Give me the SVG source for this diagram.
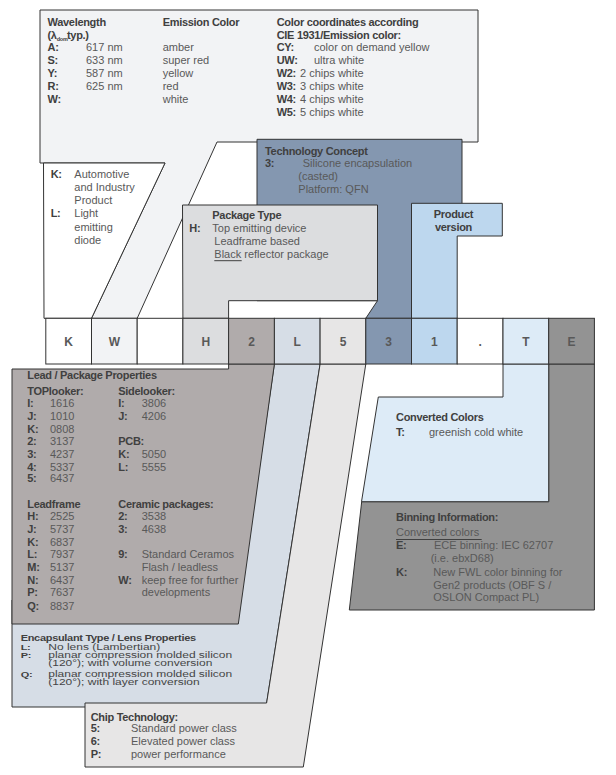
<svg xmlns="http://www.w3.org/2000/svg" width="616" height="775" viewBox="0 0 616 775">
<style>
.bx{stroke:#333;stroke-width:1;stroke-linejoin:miter}
.b{font-family:"Liberation Sans",Arial,sans-serif;font-size:11px;font-weight:bold;letter-spacing:-0.3px;fill:#404040}
.r{font-family:"Liberation Sans",Arial,sans-serif;font-size:11px;fill:#595959}
.r12{font-family:"Liberation Sans",Arial,sans-serif;font-size:12px;fill:#454545}
.c{font-family:"Liberation Sans",Arial,sans-serif;font-size:12px;font-weight:bold;fill:#595959;text-anchor:middle}
.ul{stroke:#404040;stroke-width:1}
</style>
<rect width="616" height="775" fill="#fff"/>
<g id="connectors">
</g>
<g id="node-wavelength">
<polygon class="bx" fill="#f2f3f5" points="40,10 478,10 478,142 217,142 137.2,318.3 91.5,318.3 165,163 40,163"/>
<text class="b" x="47.5" y="25.5">Wavelength</text>
<text class="b" x="47.5" y="38.5">(λ<tspan font-size="5.5" dy="2" letter-spacing="-0.2">dom</tspan><tspan x="67" dy="-2">typ.)</tspan></text>
<text class="b" x="47.5" y="51.3">A:</text><text class="r" x="86" y="51.3">617 nm</text>
<text class="b" x="47.5" y="64.2">S:</text><text class="r" x="86" y="64.2">633 nm</text>
<text class="b" x="47.5" y="77">Y:</text><text class="r" x="86" y="77">587 nm</text>
<text class="b" x="47.5" y="90">R:</text><text class="r" x="86" y="90">625 nm</text>
<text class="b" x="47.5" y="103">W:</text>
<text class="b" x="162.7" y="25.5">Emission Color</text>
<text class="r" x="162.7" y="51.3">amber</text>
<text class="r" x="162.7" y="64.2">super red</text>
<text class="r" x="162.7" y="77">yellow</text>
<text class="r" x="162.7" y="90">red</text>
<text class="r" x="162.7" y="103">white</text>
<text class="b" x="276.7" y="25.5">Color coordinates according</text>
<text class="b" x="276.7" y="38.5">CIE 1931/Emission color:</text>
<text class="b" x="276.7" y="51.3">CY:</text><text class="r" x="314" y="51.3">color on demand yellow</text>
<text class="b" x="276.7" y="64.2">UW:</text><text class="r" x="314" y="64.2">ultra white</text>
<text class="b" x="276.7" y="77">W2:</text><text class="r" x="300" y="77">2 chips white</text>
<text class="b" x="276.7" y="90">W3:</text><text class="r" x="300" y="90">3 chips white</text>
<text class="b" x="276.7" y="103">W4:</text><text class="r" x="300" y="103">4 chips white</text>
<text class="b" x="276.7" y="115.8">W5:</text><text class="r" x="300" y="115.8">5 chips white</text>
</g>
<g id="node-k">
<polygon class="bx" fill="#fff" points="43.5,163 165,163 91.5,318.3 44,318.3"/>
<text class="b" x="50.7" y="178">K:</text><text class="r" x="74.3" y="178">Automotive</text>
<text class="r" x="74.3" y="191.2">and Industry</text>
<text class="r" x="74.3" y="204.3">Product</text>
<text class="b" x="50.7" y="217.3">L:</text><text class="r" x="74.3" y="217.3">Light</text>
<text class="r" x="74.3" y="230.5">emitting</text>
<text class="r" x="74.3" y="243.5">diode</text>
</g>
<g id="node-technology">
<polygon class="bx" fill="#8497b0" points="257,139.3 462,139.3 462,210 411.5,210 411.5,318.3 365.8,318.3 377.5,300.7 257,300.7"/>
<text class="b" x="265" y="154.5">Technology Concept</text>
<text class="b" x="265" y="167.3">3:</text><text class="r" x="302.7" y="167.3">Silicone encapsulation</text>
<text class="r" x="298.3" y="180.3">(casted)</text>
<text class="r" x="298.3" y="193.2">Platform: QFN</text>
</g>
<g id="node-package">
<polygon class="bx" fill="#dcdddf" points="182.5,205 377.5,205 377.5,300.7 228.6,300.7 228.6,318.3 182.9,318.3"/>
<text class="b" x="212.3" y="219">Package Type</text>
<text class="b" x="189.3" y="232">H:</text><text class="r" x="212.3" y="232">Top emitting device</text>
<text class="r" x="214.3" y="245">Leadframe based</text>
<text class="r" x="214.3" y="257.5">Black reflector package</text>
<line class="ul" x1="214.3" y1="260.7" x2="241.7" y2="260.7"/>
</g>
<g id="node-product">
<polygon class="bx" fill="#bdd7ee" points="411.5,203.3 502.3,203.3 502.3,236 457.2,236 457.2,318.3 411.5,318.3"/>
<text class="b" x="453.5" y="218.3" text-anchor="middle">Product</text>
<text class="b" x="453.5" y="231.3" text-anchor="middle">version</text>
</g>
<g id="node-binning">
<polygon class="bx" fill="#939393" points="548.7,364 594.4,364 594.4,610 349.3,610 361.7,501.7 548.7,501.7"/>
<text class="b" x="396" y="520.5" fill="#4a4a4a">Binning Information:</text>
<text class="r" x="396" y="536.3" fill="#4e4e4e">Converted colors</text>
<line class="ul" x1="396" y1="539.5" x2="481.7" y2="539.5"/>
<text class="b" x="396" y="549" fill="#4a4a4a">E:</text><text class="r" x="434" y="549" fill="#4e4e4e">ECE binning: IEC 62707</text>
<text class="r" x="430.7" y="562.3" fill="#4e4e4e">(i.e. ebxD68)</text>
<text class="b" x="396" y="575.7" fill="#4a4a4a">K:</text><text class="r" x="433.3" y="575.7" fill="#4e4e4e">New FWL color binning for</text>
<text class="r" x="433.3" y="588.5" fill="#4e4e4e">Gen2 products (OBF S /</text>
<text class="r" x="433.3" y="601.3" fill="#4e4e4e">OSLON Compact PL)</text>
</g>
<g id="node-converted">
<polygon class="bx" fill="#ddebf7" points="503,364 548.7,364 548.7,501.7 361.5,501.7 378.3,397 503,397"/>
<text class="b" x="396" y="420.5">Converted Colors</text>
<text class="b" x="396" y="436.3">T:</text><text class="r" x="429" y="436.3">greenish cold white</text>
</g>
<g id="node-encapsulant">
<polygon class="bx" fill="#d6dde6" points="274.4,364 320.1,364 266,707 12,707 12,600 240,600"/>
<g transform="translate(0 640.5) scale(1 0.85)"><text class="b" x="20.7" y="0">Encapsulant Type / Lens Properties</text></g>
<g transform="translate(0 649.5) scale(1 0.68)"><text class="b" x="20.7" y="0">L:</text><text class="r12" x="48.3" y="0">No lens (Lambertian)</text></g>
<g transform="translate(0 657.8) scale(1 0.68)"><text class="b" x="20.7" y="0">P:</text><text class="r12" x="48.3" y="0">planar compression molded silicon</text></g>
<g transform="translate(0 666.1) scale(1 0.68)"><text class="r12" x="48.3" y="0">(120°); with volume conversion</text></g>
<g transform="translate(0 676.7) scale(1 0.68)"><text class="b" x="20.7" y="0">Q:</text><text class="r12" x="48.3" y="0">planar compression molded silicon</text></g>
<g transform="translate(0 685) scale(1 0.68)"><text class="r12" x="48.3" y="0">(120°); with layer conversion</text></g>
</g>
<g id="node-chip">
<polygon class="bx" fill="#e7e6e6" points="320.1,364 365.8,364 303.3,767 85,767 85,703 266.6,703"/>
<text class="b" x="90.7" y="720.7">Chip Technology:</text>
<text class="b" x="90.7" y="731.7">5:</text><text class="r" x="131" y="731.7">Standard power class</text>
<text class="b" x="90.7" y="745">6:</text><text class="r" x="131" y="745">Elevated power class</text>
<text class="b" x="90.7" y="758.3">P:</text><text class="r" x="131" y="758.3">power performance</text>
</g>
<g id="node-lead">
<polygon class="bx" fill="#b0abab" points="12,369 228.6,369 228.6,364 274.4,364 238.3,624 12,624"/>
<text class="b" x="27.3" y="379">Lead / Package Properties</text>
<text class="b" x="27.3" y="395">TOPlooker:</text><text class="b" x="118.3" y="395">Sidelooker:</text>
<text class="b" x="27.3" y="407.3">I:</text><text class="r" x="50" y="407.3">1616</text>
<text class="b" x="27.3" y="420">J:</text><text class="r" x="50" y="420">1010</text>
<text class="b" x="27.3" y="432.5">K:</text><text class="r" x="50" y="432.5">0808</text>
<text class="b" x="27.3" y="445">2:</text><text class="r" x="50" y="445">3137</text>
<text class="b" x="27.3" y="458">3:</text><text class="r" x="50" y="458">4237</text>
<text class="b" x="27.3" y="470.7">4:</text><text class="r" x="50" y="470.7">5337</text>
<text class="b" x="27.3" y="482.3">5:</text><text class="r" x="50" y="482.3">6437</text>
<text class="b" x="118.3" y="407.3">I:</text><text class="r" x="141.7" y="407.3">3806</text>
<text class="b" x="118.3" y="420">J:</text><text class="r" x="141.7" y="420">4206</text>
<text class="b" x="118.3" y="445">PCB:</text>
<text class="b" x="118.3" y="458">K:</text><text class="r" x="141.7" y="458">5050</text>
<text class="b" x="118.3" y="470.7">L:</text><text class="r" x="141.7" y="470.7">5555</text>
<text class="b" x="27.3" y="508">Leadframe</text><text class="b" x="118.3" y="508">Ceramic packages:</text>
<text class="b" x="27.3" y="520">H:</text><text class="r" x="50" y="520">2525</text>
<text class="b" x="27.3" y="533">J:</text><text class="r" x="50" y="533">5737</text>
<text class="b" x="27.3" y="545.7">K:</text><text class="r" x="50" y="545.7">6837</text>
<text class="b" x="27.3" y="558.3">L:</text><text class="r" x="50" y="558.3">7937</text>
<text class="b" x="27.3" y="571.3">M:</text><text class="r" x="50" y="571.3">5137</text>
<text class="b" x="27.3" y="584">N:</text><text class="r" x="50" y="584">6437</text>
<text class="b" x="27.3" y="596.3">P:</text><text class="r" x="50" y="596.3">7637</text>
<text class="b" x="27.3" y="609.7">Q:</text><text class="r" x="50" y="609.7">8837</text>
<text class="b" x="118.3" y="520">2:</text><text class="r" x="141.7" y="520">3538</text>
<text class="b" x="118.3" y="533">3:</text><text class="r" x="141.7" y="533">4638</text>
<text class="b" x="118.3" y="558.3">9:</text><text class="r" x="141.7" y="558.3">Standard Ceramos</text>
<text class="r" x="141.7" y="571.3">Flash / leadless</text>
<text class="b" x="118.3" y="584">W:</text><text class="r" x="141.7" y="584">keep free for further</text>
<text class="r" x="141.7" y="596.3">developments</text>
</g>
<g id="node-code">
<g class="bx">
<rect x="45.8" y="318.3" width="45.7" height="45.7" fill="#fff"/>
<rect x="91.5" y="318.3" width="45.7" height="45.7" fill="#f2f3f5"/>
<rect x="137.2" y="318.3" width="45.7" height="45.7" fill="#fff"/>
<rect x="182.9" y="318.3" width="45.7" height="45.7" fill="#dcdddf"/>
<rect x="228.6" y="318.3" width="45.8" height="45.7" fill="#b0abab"/>
<rect x="274.4" y="318.3" width="45.7" height="45.7" fill="#d6dde6"/>
<rect x="320.1" y="318.3" width="45.7" height="45.7" fill="#e7e6e6"/>
<rect x="365.8" y="318.3" width="45.7" height="45.7" fill="#8497b0"/>
<rect x="411.5" y="318.3" width="45.7" height="45.7" fill="#bdd7ee"/>
<rect x="457.2" y="318.3" width="45.8" height="45.7" fill="#fff"/>
<rect x="503" y="318.3" width="45.7" height="45.7" fill="#ddebf7"/>
<rect x="548.7" y="318.3" width="45.7" height="45.7" fill="#939393"/>
</g>
<text class="c" x="68.6" y="345.5">K</text>
<text class="c" x="114.3" y="345.5">W</text>
<text class="c" x="205.8" y="345.5">H</text>
<text class="c" x="251.5" y="345.5">2</text>
<text class="c" x="297.2" y="345.5">L</text>
<text class="c" x="343" y="345.5">5</text>
<text class="c" x="388.6" y="345.5">3</text>
<text class="c" x="434.4" y="345.5">1</text>
<text class="c" x="480.1" y="345.5">.</text>
<text class="c" x="525.8" y="345.5">T</text>
<text class="c" x="571.5" y="345.5">E</text>
</g>
</svg>
